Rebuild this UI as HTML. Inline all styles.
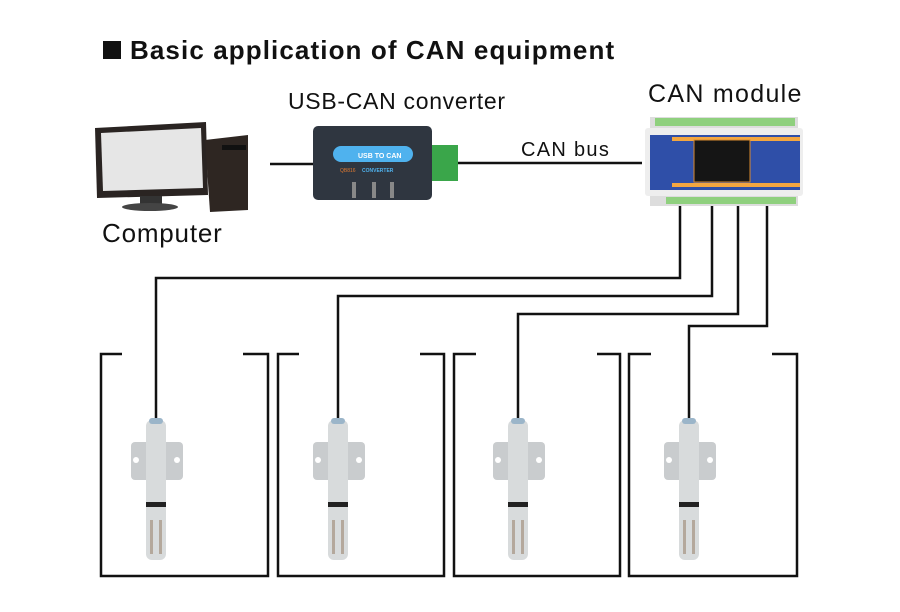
<!DOCTYPE html>
<html><head><style>
body{margin:0;background:#fff;}
.t{position:absolute;font-family:"Liberation Sans",sans-serif;color:#111;white-space:nowrap}
</style></head><body>
<div style="position:relative;width:900px;height:612px;overflow:hidden">
<div style="position:absolute;left:103px;top:41px;width:18px;height:18px;background:#111"></div>
<div class="t" style="left:130px;top:35px;font-size:26px;font-weight:bold;letter-spacing:1.1px">Basic application of CAN equipment</div>
<div class="t" style="left:288px;top:88px;font-size:23px;letter-spacing:0.7px">USB-CAN converter</div>
<div class="t" style="left:648px;top:80px;font-size:25px;letter-spacing:1.3px">CAN module</div>
<div class="t" style="left:521px;top:139px;font-size:20px;letter-spacing:1.3px">CAN bus</div>
<div class="t" style="left:102px;top:218px;font-size:26px;letter-spacing:0.8px">Computer</div>
<svg width="900" height="612" style="position:absolute;left:0;top:0">
<g stroke="#111" stroke-width="2.5" fill="none">
<line x1="270" y1="164" x2="314" y2="164"/>
<line x1="458" y1="163" x2="642" y2="163"/>
<polyline points="156,420 156,278 680,278 680,205"/>
<polyline points="338,420 338,296 712,296 712,205"/>
<polyline points="518,420 518,314 738,314 738,205"/>
<polyline points="689,420 689,326 767,326 767,205"/>
<polyline points="122,354 101,354 101,576 268,576 268,354 243,354"/>
<polyline points="299,354 278,354 278,576 444,576 444,354 420,354"/>
<polyline points="476,354 454,354 454,576 620,576 620,354 597,354"/>
<polyline points="651,354 629,354 629,576 797,576 797,354 772,354"/>
</g>
<!-- computer -->
<polygon points="95,128 206,122 208,195 97,198" fill="#2a2422"/>
<polygon points="101,133 201,128 203,188 103,191" fill="#e6e6e6"/>
<rect x="140" y="196" width="22" height="10" fill="#333"/>
<ellipse cx="150" cy="207" rx="28" ry="4" fill="#444"/>
<polygon points="205,140 248,135 248,210 210,212" fill="#2e2622"/>
<rect x="222" y="145" width="24" height="5" fill="#111"/>
<!-- converter -->
<rect x="313" y="126" width="119" height="74" rx="5" fill="#2f3640"/>
<rect x="333" y="146" width="80" height="16" rx="8" fill="#4fb2ee"/>
<text x="358" y="158" font-size="7" fill="#fff" font-family="Liberation Sans" font-weight="bold">USB TO CAN</text>
<text x="340" y="172" font-size="5" fill="#e07a30" font-family="Liberation Sans">QB816</text>
<text x="362" y="172" font-size="5" fill="#4fb2ee" font-family="Liberation Sans" font-weight="bold">CONVERTER</text>
<rect x="352" y="182" width="4" height="16" fill="#888"/><rect x="372" y="182" width="4" height="16" fill="#888"/><rect x="390" y="182" width="4" height="16" fill="#888"/>
<rect x="432" y="145" width="26" height="36" fill="#3aa64a"/>
<!-- CAN module -->
<rect x="650" y="117" width="148" height="12" fill="#ddd"/>
<rect x="655" y="118" width="140" height="8" fill="#8fd07e"/>
<rect x="645" y="128" width="158" height="68" rx="3" fill="#eee"/>
<rect x="650" y="135" width="150" height="55" fill="#2f4fa8"/>
<rect x="672" y="137" width="128" height="4" fill="#f3a640"/>
<rect x="672" y="183" width="128" height="4" fill="#f3a640"/>
<rect x="694" y="140" width="56" height="42" fill="#151515" stroke="#d98a2e"/>
<rect x="650" y="196" width="148" height="10" fill="#ddd"/>
<rect x="666" y="197" width="130" height="7" fill="#8fd07e"/>
<!-- sensors -->
<g id="s">
<rect x="131" y="442" width="52" height="38" rx="4" fill="#c9ccce"/>
<circle cx="136" cy="460" r="3" fill="#fff"/><circle cx="177" cy="460" r="3" fill="#fff"/>
<rect x="146" y="420" width="20" height="140" rx="6" fill="#d8dbdc"/>
<rect x="149" y="418" width="14" height="6" rx="3" fill="#9bb5c9"/>
<rect x="146" y="502" width="20" height="5" fill="#222"/>
<rect x="150" y="520" width="3" height="34" fill="#b4a89c"/><rect x="159" y="520" width="3" height="34" fill="#b4a89c"/>
</g>
<use href="#s" x="182"/><use href="#s" x="362"/><use href="#s" x="533"/>
</svg>
</div>
</body></html>
